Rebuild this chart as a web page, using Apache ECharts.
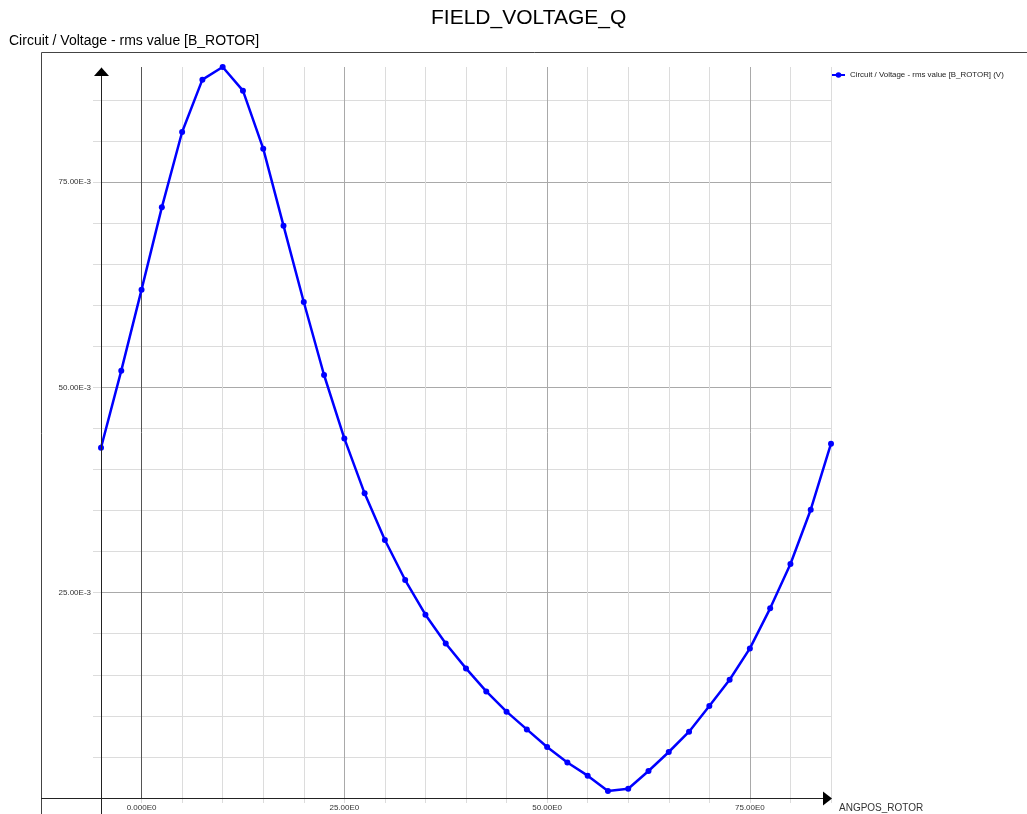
<!DOCTYPE html>
<html>
<head>
<meta charset="utf-8">
<title>FIELD_VOLTAGE_Q</title>
<script src="https://cdn.jsdelivr.net/npm/echarts@6/dist/echarts.min.js"></script>
<style>
  html, body { margin: 0; padding: 0; background: #fff; }
  #chart { width: 1027px; height: 814px; }
</style>
</head>
<body>
<div id="chart"></div>
<script>
// Rotor angular position (deg)
const angpos = [
  -5, -2.5, 0, 2.5, 5, 7.5, 10, 12.5, 15, 17.5, 20, 22.5, 25, 27.5, 30, 32.5,
  35, 37.5, 40, 42.5, 45, 47.5, 50, 52.5, 55, 57.5, 60, 62.5, 65, 67.5, 70,
  72.5, 75, 77.5, 80, 82.5, 85
];
// Field voltage, rms value on B_ROTOR (V)
const fieldVoltage = [
  0.04265, 0.05203, 0.06189, 0.07191, 0.08109, 0.08746, 0.08900, 0.08612,
  0.07906, 0.06968, 0.06039, 0.05150, 0.04378, 0.03709, 0.03141, 0.02654,
  0.02232, 0.01882, 0.01578, 0.01298, 0.01051, 0.00835, 0.00621, 0.00433,
  0.00272, 0.00085, 0.00113, 0.00329, 0.00560, 0.00807, 0.01120, 0.01440,
  0.01821, 0.02309, 0.02849, 0.03510, 0.04314
];
const seriesName = 'Circuit / Voltage - rms value [B_ROTOR] (V)';
const chartTitle = 'FIELD_VOLTAGE_Q';
const chartSubtitle = 'Circuit / Voltage - rms value [B_ROTOR]';
const xAxisName = 'ANGPOS_ROTOR';
const xLabelled = [0, 25, 50, 75];
const yLabelled = [25, 50, 75]; // in E-3

const W = 1027, H = 814;
const GRID = { left: 101, right: 196, top: 67, bottom: 16 };
const gx0 = GRID.left, gx1 = W - GRID.right, gy0 = GRID.top, gy1 = H - GRID.bottom;

const X_MIN = -5, X_MAX = 85, X_STEP = 5;
const MINOR = '#dcdcdc', MAJOR = '#a9a9a9', ZERO = '#555555';
const FONT = '"Liberation Sans", Arial, sans-serif';
const HIDDEN = 'rgba(0,0,0,0)';

// one colour per vertical grid line: zero line dark, every 25 deg medium, rest light
const xLineColors = [];
for (let v = X_MIN; v <= X_MAX; v += X_STEP) {
  xLineColors.push(v === 0 ? ZERO : (v % 25 === 0 ? MAJOR : MINOR));
}

const chart = echarts.init(document.getElementById('chart'), null, { renderer: 'canvas' });

chart.setOption({
  animation: false,
  backgroundColor: '#ffffff',
  title: [
    {
      text: chartTitle, left: 431, top: 8, padding: 0,
      textStyle: { fontFamily: FONT, fontSize: 21, fontWeight: 'normal', color: '#000' }
    },
    {
      text: chartSubtitle, left: 9, top: 34, padding: 0,
      textStyle: { fontFamily: FONT, fontSize: 14, fontWeight: 'normal', color: '#000' }
    }
  ],
  legend: {
    data: [seriesName],
    left: 831, top: 71, padding: 0,
    itemWidth: 13, itemHeight: 7, itemGap: 4,
    textStyle: { fontFamily: FONT, fontSize: 7.9, color: '#222' }
  },
  grid: { left: GRID.left, right: GRID.right, top: GRID.top, bottom: GRID.bottom, containLabel: false },
  xAxis: {
    type: 'value',
    min: X_MIN, max: X_MAX, interval: X_STEP,
    axisLine: { show: true, onZero: false, lineStyle: { color: HIDDEN } },
    axisTick: { show: true, length: 5, lineStyle: { color: MINOR } },
    axisLabel: {
      margin: 6, fontFamily: FONT, fontSize: 8, color: '#333',
      formatter: v => {
        if (xLabelled.indexOf(v) < 0) return '';
        return v === 0 ? '0.000E0' : v.toFixed(2) + 'E0';
      }
    },
    splitLine: { show: true, lineStyle: { color: xLineColors, width: 1 } }
  },
  yAxis: {
    type: 'value',
    min: 0, max: 0.089, interval: 0.005,
    axisLine: { show: true, onZero: false, lineStyle: { color: HIDDEN } },
    axisTick: { show: true, length: 8, lineStyle: { color: MINOR } },
    axisLabel: {
      margin: 10, fontFamily: FONT, fontSize: 8, color: '#333',
      showMaxLabel: false,
      formatter: v => {
        const m = Math.round(v * 1000);
        if (yLabelled.indexOf(m) < 0) return '';
        return m.toFixed(2) + 'E-3';
      }
    },
    splitLine: {
      show: true, showMaxLine: false,
      lineStyle: { color: [MAJOR, MINOR, MINOR, MINOR, MINOR], width: 1 }
    }
  },
  series: [{
    name: seriesName,
    type: 'line',
    data: angpos.map((a, i) => [a, fieldVoltage[i]]),
    symbol: 'circle',
    symbolSize: 6,
    showSymbol: true,
    lineStyle: { color: '#0000ff', width: 2.5 },
    itemStyle: { color: '#0000ff' },
    z: 5
  }],
  graphic: [
    // outer frame (left and top edges)
    { type: 'polyline', silent: true, z: 10,
      shape: { points: [[41.5, H], [41.5, 52.5], [W, 52.5]] },
      style: { stroke: '#444', lineWidth: 1, fill: null } },
    // x axis with arrow
    { type: 'line', silent: true, z: 10,
      shape: { x1: 41, y1: gy1 + 0.5, x2: gx1 - 6, y2: gy1 + 0.5 },
      style: { stroke: '#222', lineWidth: 1 } },
    { type: 'polygon', silent: true, z: 10,
      shape: { points: [[gx1 - 8, gy1 - 6.5], [gx1 + 1, gy1 + 0.5], [gx1 - 8, gy1 + 7.5]] },
      style: { fill: '#000' } },
    // y axis with arrow
    { type: 'line', silent: true, z: 10,
      shape: { x1: gx0 + 0.5, y1: gy0 + 6, x2: gx0 + 0.5, y2: H },
      style: { stroke: '#222', lineWidth: 1 } },
    { type: 'polygon', silent: true, z: 10,
      shape: { points: [[gx0 - 7, gy0 + 9], [gx0 + 0.5, gy0 + 0.5], [gx0 + 8, gy0 + 9]] },
      style: { fill: '#000' } },
    // x axis name
    { type: 'text', silent: true, z: 10, x: 839, y: gy1 + 10,
      style: { text: xAxisName, font: '10px ' + FONT, fill: '#333',
               textVerticalAlign: 'middle', verticalAlign: 'middle' } }
  ]
});
</script>
</body>
</html>
